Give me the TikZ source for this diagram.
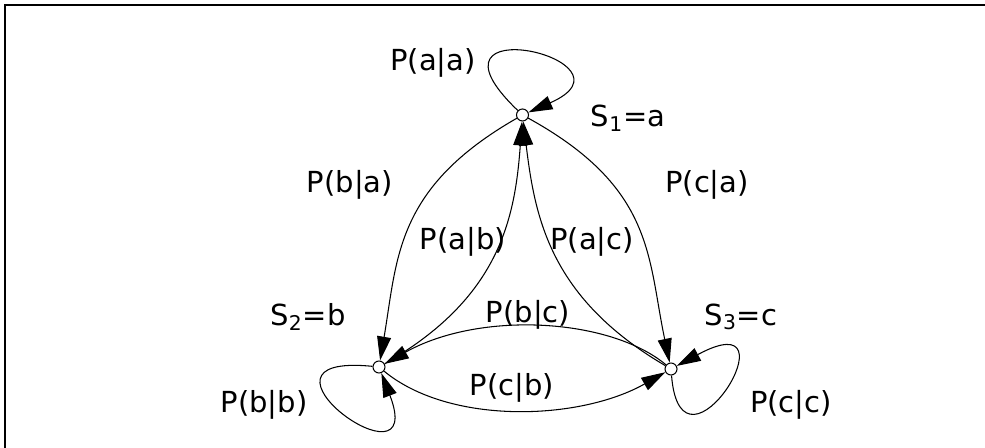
\documentclass[tikz,border=0pt]{standalone}
\usepackage{fontspec}
\setmainfont{DejaVu Sans}
\usetikzlibrary{arrows.meta}

\begin{document}
\begin{tikzpicture}[line width=0.6pt,>={Triangle[length=4.8mm,width=2.8mm]},
  estado/.style={circle,draw,inner sep=0pt,minimum size=2.4mm},
  etiq/.style={font=\fontsize{16.5}{19}\selectfont,inner sep=1pt}]
  % marco
  \useasboundingbox (0,0) rectangle (19.7,8.96);
  \draw[line width=1.5pt] (0.1,0) -- (0.1,8.86) -- (19.7,8.86);
  % estados
  \node[estado] (s1) at (10.45,6.66) {};
  \node[estado] (s2) at (7.58,1.62) {};
  \node[estado] (s3) at (13.42,1.58) {};
  % nombres de estados
  \node[etiq] (e1) at (12.56,6.60) {S\textsubscript{1}=a};
  \node[etiq] (e2) at (6.16,2.62) {S\textsubscript{2}=b};
  \node[etiq] (e3) at (14.82,2.62) {S\textsubscript{3}=c};
  % transiciones
  \draw[->] (s1) .. controls (7.9,5.2) and (7.95,3.8) .. (s2);
  \draw[->] (s1) .. controls (13.1,5.2) and (12.95,3.8) .. (s3);
  \draw[->] (s2) .. controls (10.0,3.0) and (10.3,4.6) .. (s1);
  \draw[->] (s3) .. controls (11.0,3.0) and (10.7,4.6) .. (s1);
  \draw[->] (s3) .. controls (12.2,2.6) and (9.6,2.75) .. (s2);
  \draw[->] (s2) .. controls (9.0,0.45) and (11.6,0.55) .. (s3);
  % lazos
  \draw[->] (s1) .. controls +(-2.3,2.2) and +(2.5,1.1) .. (s1);
  \draw[->] (s2) .. controls +(-3.0,0.3) and +(1.0,-2.6) .. (s2);
  \draw[->] (s3) .. controls +(0.2,-2.5) and +(2.6,1.4) .. (s3);
  % probabilidades
  \node[etiq] (paa) at (8.66,7.70) {P(a|a)};
  \node[etiq] (pba) at (7.00,5.26) {P(b|a)};
  \node[etiq] (pca) at (14.14,5.26) {P(c|a)};
  \node[etiq] (pab) at (9.26,4.12) {P(a|b)};
  \node[etiq] (pac) at (11.84,4.12) {P(a|c)};
  \node[etiq] (pbc) at (10.56,2.66) {P(b|c)};
  \node[etiq] (pcb) at (10.24,1.20) {P(c|b)};
  \node[etiq] (pbb) at (5.28,0.86) {P(b|b)};
  \node[etiq] (pcc) at (15.82,0.86) {P(c|c)};
\end{tikzpicture}
\end{document}
